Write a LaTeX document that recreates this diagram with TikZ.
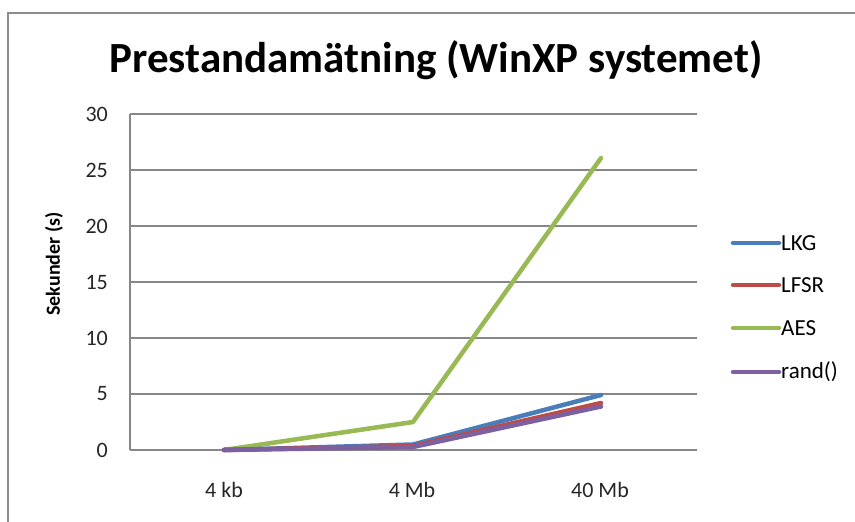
\documentclass[tikz,border=0pt]{standalone}
\usepackage{fontspec}
\setmainfont{Carlito}
\definecolor{lkg}{HTML}{4A7EBB}
\definecolor{lfsr}{HTML}{BE4B48}
\definecolor{aes}{HTML}{98B954}
\definecolor{rnd}{HTML}{7D60A0}
\definecolor{gridc}{HTML}{878787}
\definecolor{framec}{HTML}{8C8C8C}
\begin{document}
\begin{tikzpicture}[x=1pt,y=-1pt,
  gridline/.style={draw=gridc,line width=1.5pt},
  series/.style={line width=4.5pt,line cap=round,line join=round},
  ticklab/.style={font=\fontsize{22}{26}\selectfont,text=black!85,inner sep=0pt},
  leglab/.style={font=\fontsize{23}{27}\selectfont,anchor=west,inner sep=0pt}]
\useasboundingbox (0,0) rectangle (855,522);
\fill[white] (0,0) rectangle (855,522);
% chart frame
\draw[framec,line width=1.5pt] (8,540) -- (8,13) -- (870,13);
% title
\node[font=\bfseries\fontsize{43}{48}\selectfont,inner sep=0pt] (title) at (436,60) {Prestandamätning (WinXP systemet)};
% gridlines
\foreach \v in {0,5,...,30}{
  \draw[gridline] (130,{450-11.2*\v}) -- (697,{450-11.2*\v});
  \node[ticklab,anchor=east] (y\v) at (108,{450-11.2*\v}) {\v};
}
\draw[gridline] (130,114) -- (130,450);
% axis title
\node[rotate=90,font=\bfseries\fontsize{20}{24}\selectfont,inner sep=0pt] (ytitle) at (54,264) {Sekunder (s)};
% categories
\node[ticklab] (c1) at (224,490) {4 kb};
\node[ticklab] (c2) at (412,490) {4 Mb};
\node[ticklab] (c3) at (600,490) {40 Mb};
% data coordinates
\coordinate (lkg1) at (224,450); \coordinate (lkg2) at (413,444.5); \coordinate (lkg3) at (601,395);
\coordinate (lfsr1) at (224,450); \coordinate (lfsr2) at (413,446); \coordinate (lfsr3) at (601,403);
\coordinate (aes1) at (224,450); \coordinate (aes2) at (413,422); \coordinate (aes3) at (601,158);
\coordinate (rnd1) at (224,450); \coordinate (rnd2) at (413,447); \coordinate (rnd3) at (601,406.5);
\draw[series,aes] (aes1) -- (aes2) -- (aes3);
\draw[series,lkg] (lkg1) -- (lkg2) -- (lkg3);
\draw[series,lfsr] (lfsr1) -- (lfsr2) -- (lfsr3);
\draw[series,rnd] (rnd1) -- (rnd2) -- (rnd3);
% legend
\foreach \n/\c/\t/\yy in {l1/lkg/LKG/243, l2/lfsr/LFSR/285, l3/aes/AES/328, l4/rnd/rand()/372}{
  \coordinate (\n a) at (733,\yy);
  \coordinate (\n b) at (779,\yy);
  \draw[series,\c] (\n a) -- (\n b);
  \node[leglab] (\n t) at (781,\yy) {\t};
}
\end{tikzpicture}
\end{document}
